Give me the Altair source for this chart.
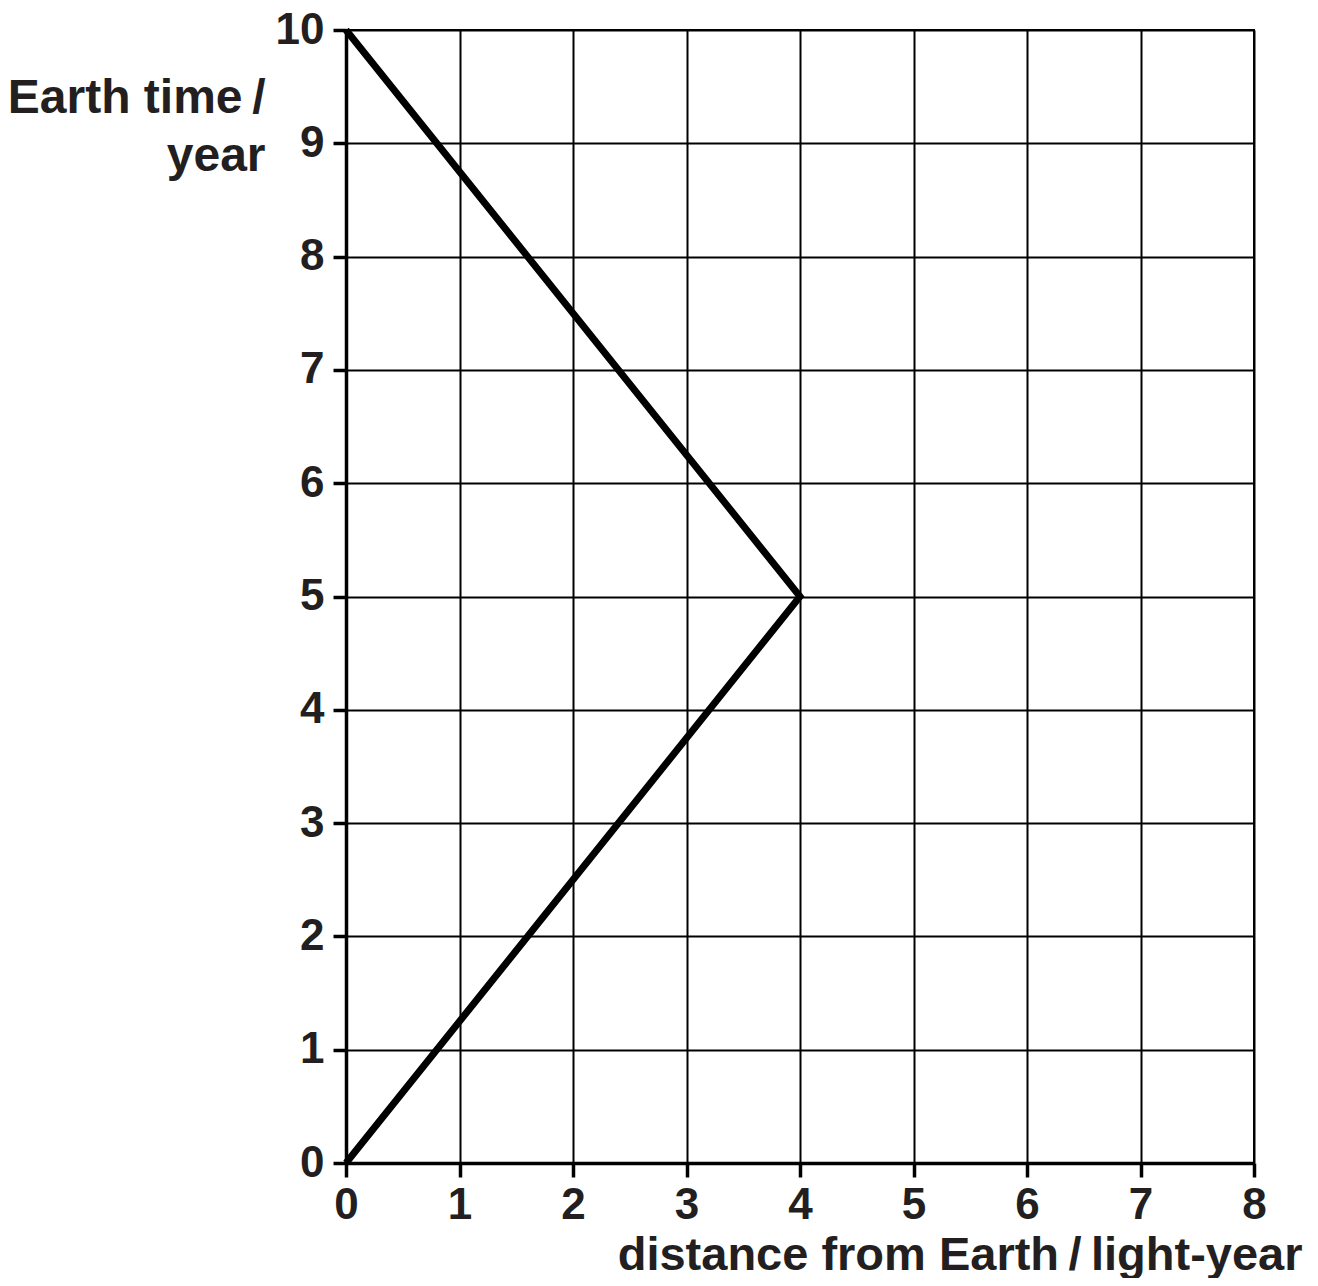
import altair as alt
import pandas as pd

distance = [0, 4, 0]
earth_time = [0, 5, 10]
x_ticks = [0, 1, 2, 3, 4, 5, 6, 7, 8]
y_ticks = [0, 1, 2, 3, 4, 5, 6, 7, 8, 9, 10]

df = pd.DataFrame({"distance": distance, "time": earth_time, "order": [0, 1, 2]})

FONT = "Liberation Sans"
TXT = "#231f20"
THIN = "\u2009"

chart = alt.Chart(df).mark_line(color="black", strokeWidth=7, strokeCap="butt", strokeJoin="miter").encode(
    x=alt.X("distance:Q",
            scale=alt.Scale(domain=[0, 8], nice=False, zero=False),
            axis=alt.Axis(values=x_ticks, format="d",
                          title=f"distance from Earth{THIN}/{THIN}light-year",
                          titleAnchor="end", titleAlign="right", titleBaseline="alphabetic",
                          titleX=956, titleY=106, titleFontSize=47,
                          labelPadding=6, tickSize=14, labelFlush=False)),
    y=alt.Y("time:Q",
            scale=alt.Scale(domain=[0, 10], nice=False, zero=False),
            axis=alt.Axis(values=y_ticks, format="d",
                          title=[f"Earth time{THIN}/", "year"],
                          titleAngle=0, titleAlign="right", titleBaseline="alphabetic",
                          titleX=-81, titleY=82, titleLineHeight=58, titleFontSize=48,
                          labelPadding=9, tickSize=13, labelFlush=False)),
    order="order:Q",
).properties(
    width=908, height=1133,
    autosize=alt.AutoSizeParams(type="none"),
    padding={"left": 338, "top": 22, "right": 56, "bottom": 115},
).configure_axis(
    grid=True, gridColor="black", gridWidth=2, gridOpacity=1,
    domainColor="black", domainWidth=3.5,
    tickColor="black", tickWidth=3.5,
    labelFont=FONT, labelFontSize=44, labelFontWeight="bold", labelColor=TXT,
    titleFont=FONT, titleFontWeight="bold", titleColor=TXT,
    labelOverlap=False,
).configure_view(stroke="black", strokeWidth=2)

chart.save("out.html", embed_options={"renderer": "svg", "actions": False})
